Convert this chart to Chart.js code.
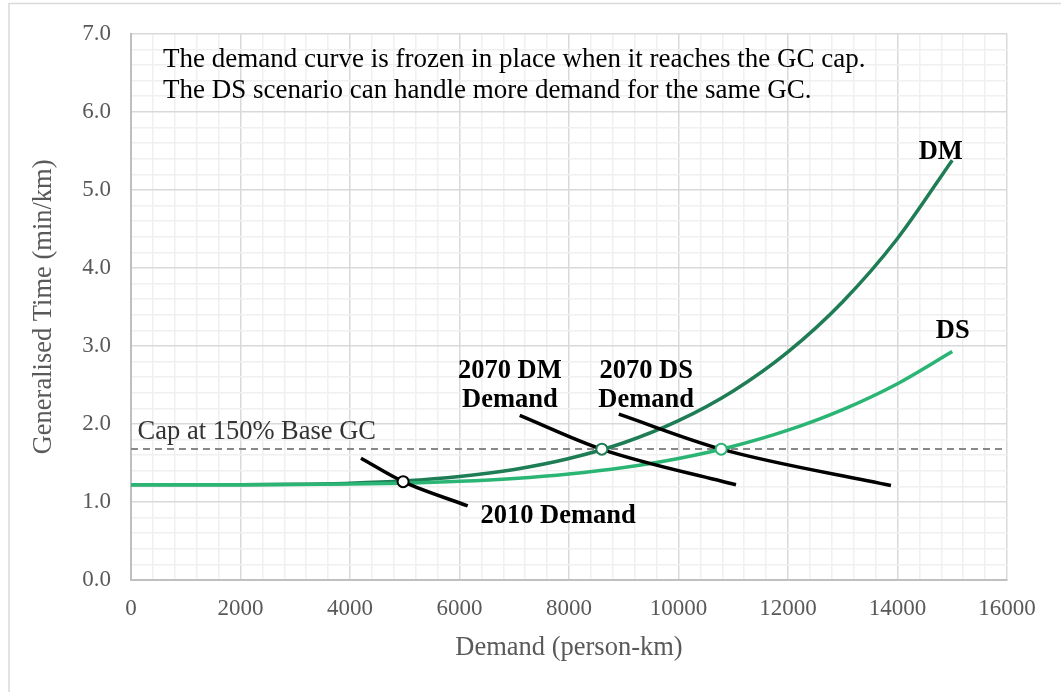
<!DOCTYPE html>
<html>
<head>
<meta charset="utf-8">
<script src="https://cdn.jsdelivr.net/npm/chart.js@4"></script>
<style>
  html, body { margin: 0; padding: 0; background: #fff; }
  #wrap { width: 1061px; height: 692px; }
</style>
</head>
<body>
<div id="wrap"><canvas id="gc-chart"></canvas></div>
<script>
// supply curves (generalised time vs demand)
const demandX = [0, 1000, 2000, 3000, 4000, 5000, 6000, 7000, 8000, 9000, 10000, 11000, 12000, 13000, 14000, 15000];
const dmTime = [1.22, 1.22, 1.221, 1.227, 1.241, 1.271, 1.327, 1.417, 1.557, 1.759, 2.042, 2.423, 2.924, 3.567, 4.377, 5.38];
const dsTime = [1.22, 1.22, 1.22, 1.223, 1.229, 1.241, 1.264, 1.301, 1.358, 1.441, 1.557, 1.714, 1.92, 2.184, 2.516, 2.928];

// demand curves
const d2010X = [4200, 4970, 6150];
const d2010Y = [1.56, 1.26, 0.95];
const d2070dmX = [7100, 8600, 11050];
const d2070dmY = [2.11, 1.675, 1.22];
const d2070dsX = [8910, 10780, 13880];
const d2070dsY = [2.125, 1.677, 1.21];

// GC cap and equilibrium points
const capX = [0, 16000];
const capY = [1.68, 1.68];
const eq2010 = [4970, 1.26];
const eqDM = [8600, 1.677];
const eqDS = [10780, 1.677];

const xTicks = [0, 2000, 4000, 6000, 8000, 10000, 12000, 14000, 16000];
const yTicks = [0, 1, 2, 3, 4, 5, 6, 7];

// text placed in data coordinates
const notes = [
  { text: "The demand curve is frozen in place when it reaches the GC cap.", x: 585, y: 6.66, align: "left", bold: false, size: 27 },
  { text: "The DS scenario can handle more demand for the same GC.", x: 585, y: 6.27, align: "left", bold: false, size: 27 },
  { text: "Cap at 150% Base GC", x: 120, y: 1.9, align: "left", bold: false, size: 26.5 },
  { text: "DM", x: 14790, y: 5.48, align: "center", bold: true, size: 26.5 },
  { text: "DS", x: 15010, y: 3.19, align: "center", bold: true, size: 26.5 },
  { text: "2070 DM", x: 6920, y: 2.68, align: "center", bold: true, size: 26.5 },
  { text: "Demand", x: 6920, y: 2.30, align: "center", bold: true, size: 26.5 },
  { text: "2070 DS", x: 9410, y: 2.68, align: "center", bold: true, size: 26.5 },
  { text: "Demand", x: 9410, y: 2.30, align: "center", bold: true, size: 26.5 },
  { text: "2010 Demand", x: 7800, y: 0.82, align: "center", bold: true, size: 26.5 },
];

const dmColor = "#1e7d55";
const dsColor = "#2bb574";
const serif = "'Liberation Serif', 'Times New Roman', serif";

const pts = (xs, ys) => xs.map((x, i) => ({ x: x, y: ys[i] }));

const isMajor = (v, step) => Math.abs(v / step - Math.round(v / step)) < 1e-6;

const frame = {
  id: "frame",
  beforeDraw(chart) {
    const ctx = chart.ctx;
    ctx.save();
    ctx.strokeStyle = "#d9d9d9";
    ctx.lineWidth = 1.5;
    ctx.beginPath();
    ctx.moveTo(9, 700);
    ctx.lineTo(9, 3.5);
    ctx.lineTo(1070, 3.5);
    ctx.stroke();
    ctx.restore();
  },
  afterDraw(chart) {
    const ctx = chart.ctx;
    const xs = chart.scales.x;
    const ys = chart.scales.y;
    ctx.save();
    ctx.textBaseline = "middle";
    notes.forEach((n) => {
      ctx.font = (n.bold ? "bold " : "") + n.size + "px " + serif;
      ctx.fillStyle = n.text.startsWith("Cap") ? "#333333" : "#000000";
      ctx.textAlign = n.align;
      ctx.fillText(n.text, xs.getPixelForValue(n.x), ys.getPixelForValue(n.y));
    });
    ctx.restore();
  },
};

const demandLine = (xs, ys) => ({
  data: pts(xs, ys),
  showLine: true,
  borderColor: "#000000",
  borderWidth: 3.5,
  pointRadius: 0,
  cubicInterpolationMode: "monotone",
  order: 1,
});

const marker = (p, color) => ({
  data: [{ x: p[0], y: p[1] }],
  pointRadius: 5.5,
  pointBackgroundColor: "#ffffff",
  pointBorderColor: color,
  pointBorderWidth: 2,
  order: 0,
});

new Chart(document.getElementById("gc-chart"), {
  type: "scatter",
  plugins: [frame],
  data: {
    datasets: [
      {
        data: pts(demandX, dmTime),
        showLine: true,
        borderColor: dmColor,
        borderWidth: 3.5,
        pointRadius: 0,
        cubicInterpolationMode: "monotone",
        order: 3,
      },
      {
        data: pts(demandX, dsTime),
        showLine: true,
        borderColor: dsColor,
        borderWidth: 3.5,
        pointRadius: 0,
        cubicInterpolationMode: "monotone",
        order: 2,
      },
      {
        data: pts(capX, capY),
        showLine: true,
        borderColor: "#888888",
        borderWidth: 2,
        borderDash: [7, 5],
        pointRadius: 0,
        order: 4,
      },
      demandLine(d2010X, d2010Y),
      demandLine(d2070dmX, d2070dmY),
      demandLine(d2070dsX, d2070dsY),
      marker(eq2010, "#000000"),
      marker(eqDM, dmColor),
      marker(eqDS, dsColor),
    ],
  },
  options: {
    responsive: true,
    maintainAspectRatio: false,
    animation: false,
    layout: { padding: { top: 33, right: 54, left: 0, bottom: 0 } },
    plugins: {
      legend: { display: false },
      tooltip: { enabled: false },
    },
    scales: {
      x: {
        type: "linear",
        min: xTicks[0],
        max: xTicks[xTicks.length - 1],
        afterFit: (scale) => {
          scale.height = 112;
        },
        ticks: {
          stepSize: 400,
          autoSkip: false,
          maxRotation: 0,
          padding: 15,
          color: "#595959",
          font: { family: serif, size: 23 },
          callback: (v) => (xTicks.includes(v) ? String(v) : ""),
        },
        grid: {
          drawTicks: false,
          lineWidth: 1.5,
          color: (c) => (isMajor(c.tick.value, 2000) ? "#d9d9d9" : "#f0f0f0"),
        },
        border: { color: "#bfbfbf", width: 2 },
        title: {
          display: true,
          text: "Demand (person-km)",
          color: "#595959",
          font: { family: serif, size: 26.5 },
          padding: { top: 0, bottom: 28 },
        },
      },
      y: {
        type: "linear",
        min: yTicks[0],
        max: yTicks[yTicks.length - 1],
        afterFit: (scale) => {
          scale.width = 131;
        },
        ticks: {
          stepSize: 0.2,
          autoSkip: false,
          padding: 20,
          color: "#595959",
          font: { family: serif, size: 23 },
          callback: (v) => (isMajor(v, 1) ? Math.round(v).toFixed(1) : ""),
        },
        grid: {
          drawTicks: false,
          lineWidth: 1.5,
          color: (c) => (isMajor(c.tick.value, 1) ? "#d9d9d9" : "#f0f0f0"),
        },
        border: { color: "#bfbfbf", width: 2 },
        title: {
          display: true,
          text: "Generalised Time (min/km)",
          color: "#595959",
          font: { family: serif, size: 26.5 },
          padding: { top: 28, bottom: 0 },
        },
      },
    },
  },
});
</script>
</body>
</html>
